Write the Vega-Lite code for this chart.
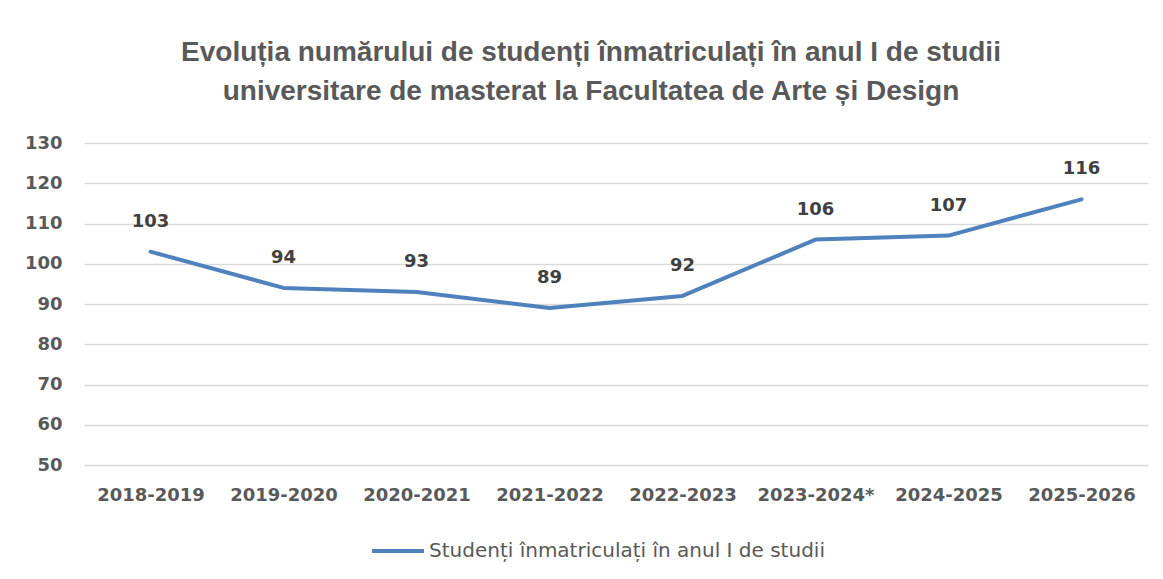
{
  "$schema": "https://vega.github.io/schema/vega-lite/v6.json",
  "width": 1064,
  "height": 322,
  "autosize": {"type": "none"},
  "padding": {"left": 84, "top": 143, "right": 15, "bottom": 114},
  "background": "white",
  "config": {"view": {"stroke": null}},
  "title": {
    "text": ["Evoluția numărului de studenți înmatriculați în anul I de studii", "universitare de masterat la Facultatea de Arte și Design"],
    "font": "Liberation Sans",
    "fontSize": 28,
    "fontWeight": "bold",
    "color": "#595959",
    "anchor": "middle",
    "lineHeight": 39,
    "offset": 28,
    "dx": -25
  },
  "data": {
    "values": [
      {"an": "2018-2019", "studenti": 103, "serie": "Studenți înmatriculați în anul I de studii"},
      {"an": "2019-2020", "studenti": 94, "serie": "Studenți înmatriculați în anul I de studii"},
      {"an": "2020-2021", "studenti": 93, "serie": "Studenți înmatriculați în anul I de studii"},
      {"an": "2021-2022", "studenti": 89, "serie": "Studenți înmatriculați în anul I de studii"},
      {"an": "2022-2023", "studenti": 92, "serie": "Studenți înmatriculați în anul I de studii"},
      {"an": "2023-2024*", "studenti": 106, "serie": "Studenți înmatriculați în anul I de studii"},
      {"an": "2024-2025", "studenti": 107, "serie": "Studenți înmatriculați în anul I de studii"},
      {"an": "2025-2026", "studenti": 116, "serie": "Studenți înmatriculați în anul I de studii"}
    ]
  },
  "encoding": {
    "x": {
      "field": "an", "type": "ordinal", "sort": null, "title": null,
      "scale": {"paddingInner": 0, "paddingOuter": 0.5},
      "axis": {
        "labelAngle": 0, "domain": false, "ticks": false, "grid": false,
        "labelFont": "DejaVu Sans", "labelFontSize": 18, "labelFontWeight": "bold",
        "labelColor": "#595959", "labelPadding": 21
      }
    },
    "y": {
      "field": "studenti", "type": "quantitative", "title": null,
      "scale": {"domain": [50, 130], "nice": false, "zero": false},
      "axis": {
        "values": [50, 60, 70, 80, 90, 100, 110, 120, 130],
        "domain": false, "ticks": false,
        "gridColor": "#d9d9d9", "gridWidth": 1.5,
        "labelFont": "DejaVu Sans", "labelFontSize": 18, "labelFontWeight": "bold",
        "labelColor": "#595959", "labelPadding": 22
      }
    }
  },
  "layer": [
    {
      "mark": {"type": "line", "strokeWidth": 4, "strokeCap": "round", "strokeJoin": "round"},
      "encoding": {
        "stroke": {
          "field": "serie", "type": "nominal", "title": null,
          "scale": {"range": ["#4f81bd"]},
          "legend": {
            "orient": "none", "legendX": 286, "legendY": 380,
            "symbolType": "stroke", "symbolSize": 2700, "symbolStrokeWidth": 4,
            "labelFont": "DejaVu Sans", "labelFontSize": 20, "labelColor": "#595959",
            "labelOffset": 3, "labelLimit": 600
          }
        }
      }
    },
    {
      "mark": {
        "type": "text", "dy": -30, "font": "DejaVu Sans", "fontSize": 18,
        "fontWeight": "bold", "color": "#404040", "baseline": "middle"
      },
      "encoding": {"text": {"field": "studenti", "type": "quantitative"}}
    }
  ]
}
